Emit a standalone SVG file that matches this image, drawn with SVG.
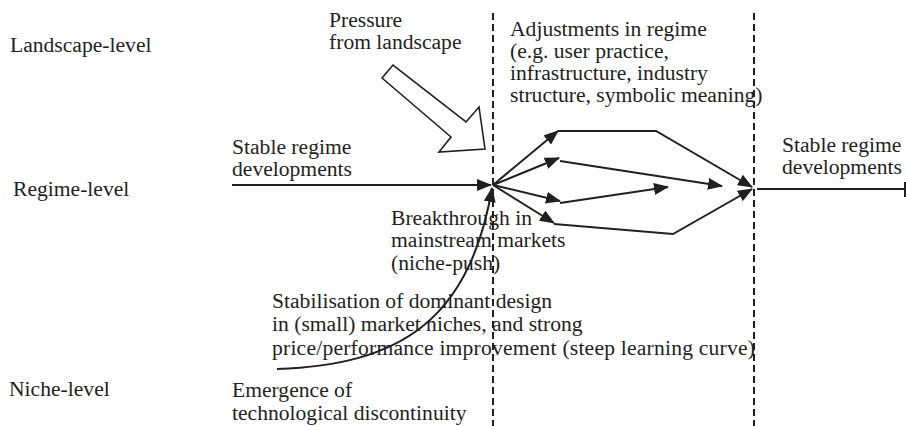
<svg xmlns="http://www.w3.org/2000/svg" width="906" height="426" viewBox="0 0 906 426">
  <style>
    text { font-family: "Liberation Serif", "Times New Roman", serif; font-size: 21.6px; fill: #231f20; }
    .divider { stroke: #231f20; stroke-width: 2; stroke-dasharray: 7 4; fill: none; }
    .flow { stroke: #231f20; stroke-width: 2; fill: none; }
    .flow-arrow { stroke: #231f20; stroke-width: 2; fill: none; marker-end: url(#head); }
    .push { stroke: #231f20; stroke-width: 1.6; fill: #ffffff; stroke-linejoin: miter; }
  </style>
  <defs>
    <marker id="head" markerUnits="userSpaceOnUse" markerWidth="16" markerHeight="12" refX="14" refY="6" orient="auto">
      <path d="M0,0 L15,6 L0,12 Z" fill="#231f20"/>
    </marker>
  </defs>

  <rect width="906" height="426" fill="#ffffff"/>

  <!-- level labels -->
  <g id="landscape-level"><text x="10" y="52">Landscape-level</text></g>
  <g id="regime-level"><text x="13" y="196">Regime-level</text></g>
  <g id="niche-level"><text x="9" y="396">Niche-level</text></g>

  <!-- phase dividers -->
  <g id="dividers">
    <line class="divider" x1="493" y1="13" x2="493" y2="426"/>
    <line class="divider" x1="754" y1="13" x2="754" y2="426"/>
  </g>

  <!-- landscape pressure (hollow block arrow) -->
  <g id="pressure">
    <text x="329" y="27">Pressure</text>
    <text x="329" y="49">from landscape</text>
    <polygon class="push" points="382,78 393,65 466,122 479,107 485,149 439,152 451,137"/>
  </g>

  <g id="stable-left">
    <text x="232" y="154">Stable regime</text>
    <text x="232" y="176">developments</text>
  </g>

  <g id="adjustments">
    <text x="510" y="36">Adjustments in regime</text>
    <text x="510" y="58">(e.g. user practice,</text>
    <text x="510" y="80">infrastructure, industry</text>
    <text x="510" y="102">structure, symbolic meaning)</text>
  </g>

  <g id="stable-right">
    <text x="782" y="152">Stable regime</text>
    <text x="782" y="174">developments</text>
  </g>

  <g id="breakthrough">
    <text x="391" y="225">Breakthrough in</text>
    <text x="391" y="247">mainstream markets</text>
    <text x="391" y="270">(niche-push)</text>
  </g>

  <g id="stabilisation">
    <text x="272" y="308">Stabilisation of dominant design</text>
    <text x="272" y="331">in (small) market niches, and strong</text>
    <text x="272" y="355" textLength="483" lengthAdjust="spacing">price/performance improvement (steep learning curve)</text>
  </g>

  <g id="emergence">
    <text x="232" y="397">Emergence of</text>
    <text x="232" y="420">technological discontinuity</text>
  </g>

  <!-- connectors -->
  <g id="connectors">
    <line class="flow-arrow" x1="232" y1="185" x2="491" y2="185"/>
    <path class="flow-arrow" d="M277,369 C400,365 470,320 492,188"/>

    <line class="flow-arrow" x1="493" y1="185" x2="558" y2="131"/>
    <line class="flow-arrow" x1="493" y1="185" x2="559" y2="158"/>
    <line class="flow-arrow" x1="493" y1="185" x2="560" y2="201"/>
    <line class="flow-arrow" x1="493" y1="185" x2="554" y2="223"/>

    <polyline class="flow-arrow" points="558,131 656,131 752,187"/>
    <line class="flow-arrow" x1="560" y1="161" x2="722" y2="186"/>
    <line class="flow-arrow" x1="560" y1="203" x2="668" y2="187"/>
    <polyline class="flow-arrow" points="554,224 673,234 752,189"/>

    <line class="flow" x1="757" y1="189" x2="905" y2="189"/>
    <line class="flow" x1="905" y1="182" x2="905" y2="197"/>
  </g>
</svg>
